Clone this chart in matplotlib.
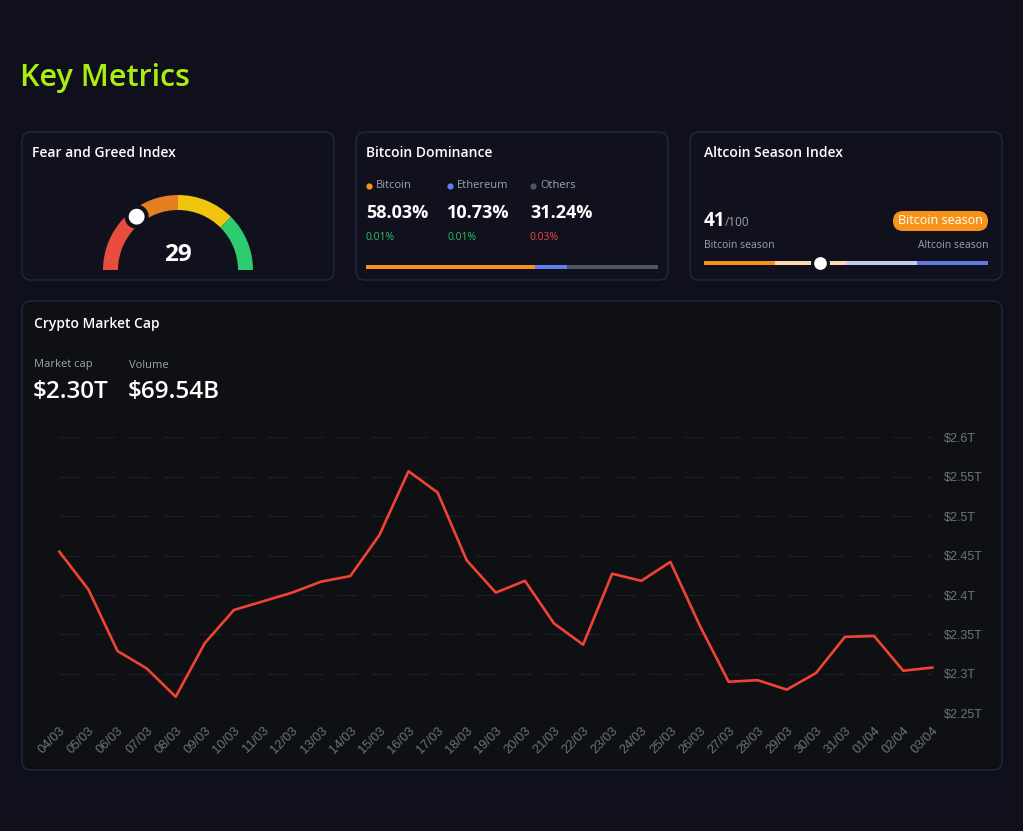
import matplotlib
matplotlib.use('Agg')
import numpy as np
import matplotlib.pyplot as plt
from matplotlib.patches import FancyBboxPatch, Wedge, Circle

# market cap history (trillions USD)
dates = ['04/03', '05/03', '06/03', '07/03', '08/03', '09/03', '10/03', '11/03', '12/03', '13/03',
         '14/03', '15/03', '16/03', '17/03', '18/03', '19/03', '20/03', '21/03', '22/03', '23/03',
         '24/03', '25/03', '26/03', '27/03', '28/03', '29/03', '30/03', '31/03', '01/04', '02/04', '03/04']
market_cap = [2.455, 2.407, 2.329, 2.307, 2.271, 2.339, 2.381, 2.392, 2.403, 2.417,
              2.424, 2.476, 2.557, 2.530, 2.444, 2.403, 2.418, 2.364, 2.337, 2.427,
              2.418, 2.442, 2.362, 2.290, 2.292, 2.280, 2.301, 2.347, 2.348, 2.304, 2.308]
y_ticks = [2.25, 2.3, 2.35, 2.4, 2.45, 2.5, 2.55, 2.6]
y_labels = ['$2.25T', '$2.3T', '$2.35T', '$2.4T', '$2.45T', '$2.5T', '$2.55T', '$2.6T']

fear_greed = 29
gauge_bands = [0, 25, 50, 75, 100]
gauge_colors = ['#e74c3c', '#e67e22', '#f1c40f', '#2ecc71']

dom_names = ['Bitcoin', 'Ethereum', 'Others']
dom_values = [58.03, 10.73, 31.24]
dom_changes = ['0.01%', '0.01%', '0.03%']
dom_change_colors = ['#22c55e', '#22c55e', '#ef4444']
dom_colors = ['#f7931a', '#627eea', '#4b5563']

alt_index = 41
alt_bands = [0, 25, 50, 75, 100]
alt_colors = ['#f7931a', '#fdd9b0', '#c3cbf7', '#6078e6']

market_cap_label = '$2.30T'
volume_label = '$69.54B'

W, H = 1023, 831
BG = '#10101c'
CARD = '#11111e'
CHART_CARD = '#0f1014'
BORDER = '#1c2a44'
GRAY = '#9ca3af'
UI = ['Open Sans', 'DejaVu Sans']

fig = plt.figure(figsize=(W / 100, H / 100), dpi=100, facecolor=BG)
bg = fig.add_axes([0, 0, 1, 1])
bg.set_xlim(0, W)
bg.set_ylim(H, 0)
bg.axis('off')
bg.set_facecolor(BG)


def px_axes(x, y, w, h):
    return fig.add_axes([x / W, 1 - (y + h) / H, w / W, h / H])


def card(x, y, w, h, fc):
    bg.add_patch(FancyBboxPatch((x, y), w, h, boxstyle='round,pad=0,rounding_size=9',
                                fc=fc, ec=BORDER, lw=1))


def txt(x, y, s, size, color='white', weight='normal', ha='left', va='center'):
    bg.text(x, y, s, fontsize=size, color=color, fontweight=weight, ha=ha, va=va, family=UI)


txt(20, 78, 'Key Metrics', 22, color='#aaee11', weight='semibold')

card(22, 132, 312, 148, CARD)
card(356, 132, 312, 148, CARD)
card(690, 132, 312, 148, CARD)
card(22, 301, 980, 469, CHART_CARD)

txt(32, 153, 'Fear and Greed Index', 10, weight='semibold')
txt(366, 153, 'Bitcoin Dominance', 10, weight='semibold')
txt(704, 153, 'Altcoin Season Index', 10, weight='semibold')
txt(34, 324, 'Crypto Market Cap', 10, weight='semibold')

# gauge
cx, cy, r_out, thick = 178, 270, 75, 15
for i, c in enumerate(gauge_colors):
    t1 = 180 - gauge_bands[i + 1] * 1.8
    t2 = 180 - gauge_bands[i] * 1.8
    # y axis inverted -> negate angles
    bg.add_patch(Wedge((cx, cy), r_out, -t2, -t1, width=thick, fc=c, ec='none'))
ang = np.radians(180 - fear_greed * 1.8)
rk = r_out - thick / 2
bg.add_patch(Circle((cx + rk * np.cos(ang), cy - rk * np.sin(ang)), 10, fc='white', ec=CARD, lw=3, zorder=5))
txt(cx, 255, str(fear_greed), 17.5, weight='bold', ha='center')

# bitcoin dominance
dot_x = [369, 450, 533]
for i in range(3):
    bg.plot(dot_x[i], 186, 'o', ms=4.5, color=dom_colors[i], mec='none')
    txt(dot_x[i] + 7, 186, dom_names[i], 8, color=GRAY)
    txt(dot_x[i] - 3, 213, '%.2f%%' % dom_values[i], 13, weight='bold')
    txt(dot_x[i] - 3, 238, dom_changes[i], 7.5, color=dom_change_colors[i])

dax = px_axes(366, 265, 292, 4)
dax.set_xlim(0, 100)
dax.set_ylim(-0.5, 0.5)
dax.axis('off')
left = 0
for v, c in zip(dom_values, dom_colors):
    dax.barh(0, v, left=left, height=1, color=c)
    left += v

# altcoin season
txt(704, 221, str(alt_index), 13.5, weight='bold')
txt(725, 223, '/100', 8.5, color=GRAY)
bg.add_patch(FancyBboxPatch((893, 211), 95, 20, boxstyle='round,pad=0,rounding_size=10', fc='#f7931a', ec='none'))
txt(940.5, 221, 'Bitcoin season', 9, ha='center')
txt(704, 246, 'Bitcoin season', 7.5, color=GRAY)
txt(988, 246, 'Altcoin season', 7.5, color=GRAY, ha='right')

aax = px_axes(704, 254, 284, 18)
aax.set_xlim(0, 100)
aax.set_ylim(-0.5, 0.5)
aax.axis('off')
for i, c in enumerate(alt_colors):
    aax.barh(0, alt_bands[i + 1] - alt_bands[i], left=alt_bands[i], height=0.22, color=c)
aax.scatter([alt_index], [0], s=130, color='white', edgecolors=CARD, linewidths=2.2, zorder=5)

# market cap header
txt(34, 365, 'Market cap', 8, color=GRAY)
txt(33, 392, market_cap_label, 17.5, weight='semibold')
txt(129, 365, 'Volume', 8, color=GRAY)
txt(128, 392, volume_label, 17.5, weight='semibold')

# line chart
ax = fig.add_axes([59.3 / W, 1 - 713.3 / H, 873 / W, 276 / H])
ax.set_facecolor('none')
x = np.arange(len(dates))
ax.plot(x, market_cap, color='#f04333', lw=1.9, clip_on=False, solid_joinstyle='round')
ax.set_xlim(0, len(dates) - 1)
ax.set_ylim(2.25, 2.6)
ax.set_yticks(y_ticks)
ax.set_yticklabels(y_labels)
ax.set_xticks(x)
ax.set_xticklabels(dates, rotation=45, ha='right', rotation_mode='anchor')
ax.yaxis.tick_right()
ax.tick_params(axis='y', length=0, pad=8, labelsize=9, labelcolor='#6b7280')
ax.tick_params(axis='x', length=0, pad=8, labelsize=9.3, labelcolor='#6b7280')
for lab in ax.get_xticklabels() + ax.get_yticklabels():
    lab.set_family(['Liberation Sans', 'DejaVu Sans'])
ax.grid(axis='y', color='#1c1f27', lw=1, linestyle=(0, (15, 10)))
ax.grid(axis='x', visible=False)
for s in ax.spines.values():
    s.set_visible(False)

fig.savefig('out.png', dpi=100, facecolor=BG)
